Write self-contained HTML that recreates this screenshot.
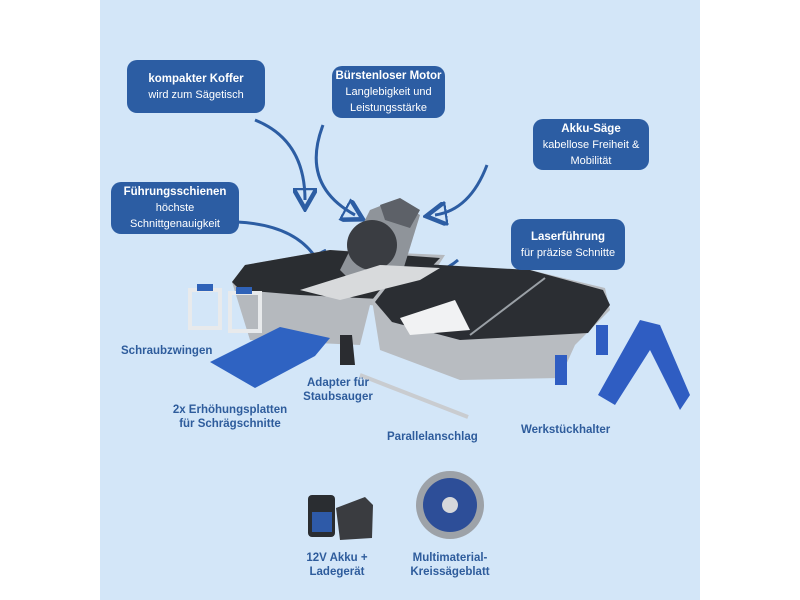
<!DOCTYPE html>
<html><head><meta charset="utf-8"><style>
body{margin:0;width:800px;height:600px;background:#fff;position:relative;overflow:hidden;font-family:"Liberation Sans",sans-serif}
#bg{position:absolute;left:100px;top:0;width:600px;height:600px;background:#d3e6f8}
.b{position:absolute;background:#2c5da3;color:#fff;border-radius:10px;text-align:center;font-size:11px;line-height:16px;display:flex;flex-direction:column;justify-content:center;white-space:nowrap}
.b b{font-size:11.5px}
.l{position:absolute;color:#2e5c9c;font-weight:bold;font-size:11.5px;line-height:14px;text-align:center;white-space:nowrap}
svg{position:absolute;left:0;top:0}
</style></head><body>
<div id="bg"></div>
<svg width="800" height="600">
<defs><marker id="a" markerWidth="8" markerHeight="8" refX="4" refY="4" orient="auto"><path d="M0,0 L7,4 L0,8 Z" fill="none" stroke="#2c5da3" stroke-width="1.5"/></marker></defs>
<g fill="none" stroke="#2c5da3" stroke-width="3" marker-end="url(#a)">
<path d="M255,120 Q305,140 305,200"/>
<path d="M323,125 Q300,185 355,215"/>
<path d="M487,165 Q470,210 435,215"/>
<path d="M237,222 Q300,225 320,265"/>
<path d="M458,260 Q435,280 395,272"/>
</g>
<!-- left case -->
<polygon points="232,282 245,265 330,250 445,255 410,310 370,305 360,345 250,340" fill="#b5b9be"/>
<polygon points="232,282 245,265 330,250 440,258 400,300 300,295 240,290" fill="#2a2d31"/>
<!-- right case -->
<polygon points="372,300 400,265 530,270 605,288 610,310 575,345 560,378 460,380 380,350" fill="#b8bcc1"/>
<polygon points="375,302 405,263 530,270 603,290 610,305 588,333 460,340 392,322" fill="#2b2e33"/>
<polygon points="400,318 455,300 470,330 410,335" fill="#f1f2f3"/>
<line x1="470" y1="335" x2="545" y2="278" stroke="#9aa0a6" stroke-width="2"/>
<!-- saw -->
<polygon points="340,270 370,210 395,200 420,215 400,280 360,290" fill="#8f949a"/>
<circle cx="372" cy="245" r="25" fill="#3a3d42"/>
<polygon points="380,205 400,198 420,210 410,228 385,220" fill="#5d6168"/>
<polygon points="300,290 380,265 440,268 420,280 340,300" fill="#d8dadc"/>
<!-- clamps -->
<rect x="190" y="290" width="30" height="38" fill="none" stroke="#e8eaec" stroke-width="4"/>
<rect x="230" y="293" width="30" height="38" fill="none" stroke="#e8eaec" stroke-width="4"/>
<rect x="197" y="284" width="16" height="7" fill="#2f62b8"/><rect x="236" y="287" width="16" height="7" fill="#2f62b8"/>
<!-- blue plate -->
<polygon points="210,362 280,327 330,338 315,356 255,388" fill="#2f63c2"/>
<!-- adapter -->
<polygon points="340,335 352,335 355,365 340,365" fill="#2a2c30"/>
<!-- parallel -->
<line x1="360" y1="375" x2="468" y2="417" stroke="#c9ccd0" stroke-width="4"/>
<!-- werkstückhalter -->
<polygon points="598,395 640,320 660,325 690,395 680,410 650,350 615,405" fill="#2f5dc2"/>
<rect x="555" y="355" width="12" height="30" fill="#2f5dc2"/><rect x="596" y="325" width="12" height="30" fill="#2f5dc2"/>
<!-- battery & charger -->
<rect x="308" y="495" width="27" height="42" rx="4" fill="#2a2d31"/><rect x="312" y="512" width="20" height="20" fill="#2e5aa8"/>
<polygon points="336,508 365,497 373,505 372,538 340,540" fill="#3a3c40"/>
<!-- blade -->
<circle cx="450" cy="505" r="34" fill="#9da2a8"/>
<circle cx="450" cy="505" r="27" fill="#2d4e98"/>
<circle cx="450" cy="505" r="8" fill="#d6d8db"/>
</svg>
<div class="b" style="left:127px;top:60px;width:138px;height:53px"><b>kompakter Koffer</b>wird zum Sägetisch</div>
<div class="b" style="left:332px;top:66px;width:113px;height:52px"><b>Bürstenloser Motor</b>Langlebigkeit und<br>Leistungsstärke</div>
<div class="b" style="left:533px;top:119px;width:116px;height:51px"><b>Akku-Säge</b>kabellose Freiheit &amp;<br>Mobilität</div>
<div class="b" style="left:111px;top:182px;width:128px;height:52px"><b>Führungsschienen</b>höchste<br>Schnittgenauigkeit</div>
<div class="b" style="left:511px;top:219px;width:114px;height:51px"><b>Laserführung</b>für präzise Schnitte</div>
<div class="l" style="left:121px;top:344px">Schraubzwingen</div>
<div class="l" style="left:170px;top:403px;width:120px">2x Erhöhungsplatten<br>für Schrägschnitte</div>
<div class="l" style="left:300px;top:376px;width:76px">Adapter für<br>Staubsauger</div>
<div class="l" style="left:387px;top:430px">Parallelanschlag</div>
<div class="l" style="left:521px;top:423px">Werkstückhalter</div>
<div class="l" style="left:297px;top:551px;width:80px">12V Akku +<br>Ladegerät</div>
<div class="l" style="left:400px;top:551px;width:100px">Multimaterial-<br>Kreissägeblatt</div>
</body></html>
